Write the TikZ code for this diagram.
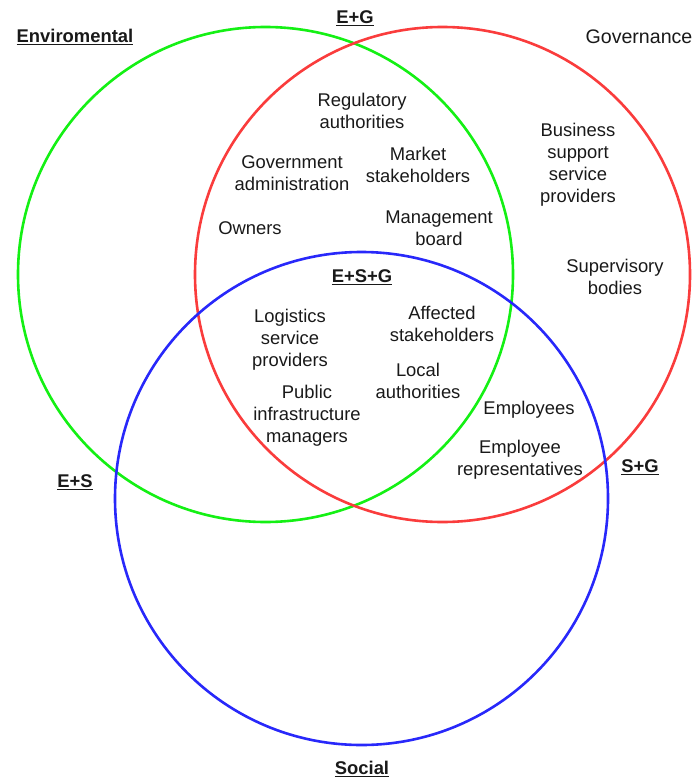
\documentclass[tikz,border=0pt]{standalone}
\usepackage{fontspec}
\setmainfont{Liberation Sans}
\definecolor{cgreen}{RGB}{20,240,20}
\definecolor{cred}{RGB}{250,60,60}
\definecolor{cblue}{RGB}{40,40,250}
\definecolor{ctext}{RGB}{25,25,25}
\begin{document}
\begin{tikzpicture}[x=1pt,y=-1pt,
  ring/.style={draw,circle,line width=2.6pt,minimum size=495pt,inner sep=0pt},
  lbl/.style={text=ctext,align=center,inner sep=0pt,font=\fontsize{18.4}{22}\selectfont},
  head/.style={text=ctext,inner sep=0pt,font=\fontsize{18.4}{22}\selectfont\bfseries}]
\useasboundingbox (0,0) rectangle (694,778);
\node[ring,cgreen] (E) at (265.5,274.5) {};
\node[ring,cred] (G) at (442.5,274.5) {};
\node[ring,cblue,minimum size=493pt] (S) at (361.5,498.5) {};
\node[head] (tE) at (75,37) {\underline{Enviromental}};
\node[head,font=\fontsize{19.6}{22}\selectfont] (tG) at (639,37) {Governance};
\node[head] (tEG) at (355,18) {\underline{E+G}};
\node[head] (tES) at (75,482) {\underline{E+S}};
\node[head] (tSG) at (640,467) {\underline{S+G}};
\node[head] (tS) at (362,769) {\underline{Social}};
\node[head] (tESG) at (362,277) {\underline{E+S+G}};
\node[lbl] (reg) at (362,111) {Regulatory\\authorities};
\node[lbl] (gov) at (292,173) {Government\\administration};
\node[lbl] (mkt) at (418,165) {Market\\stakeholders};
\node[lbl] (own) at (250,228) {Owners};
\node[lbl] (mgmt) at (439,228) {Management\\board};
\node[lbl] (bus) at (578,165) {Business\\support\\service\\providers};
\node[lbl] (sup) at (615,277) {Supervisory\\bodies};
\node[lbl] (log) at (290,340) {Logistics\\service\\providers};
\node[lbl] (aff) at (442,324) {Affected\\stakeholders};
\node[lbl] (loc) at (418,381) {Local\\authorities};
\node[lbl] (pub) at (307,416) {Public\\infrastructure\\managers};
\node[lbl] (emp) at (529,410) {Employees};
\node[lbl] (rep) at (520,460) {Employee\\representatives};
\end{tikzpicture}
\end{document}
